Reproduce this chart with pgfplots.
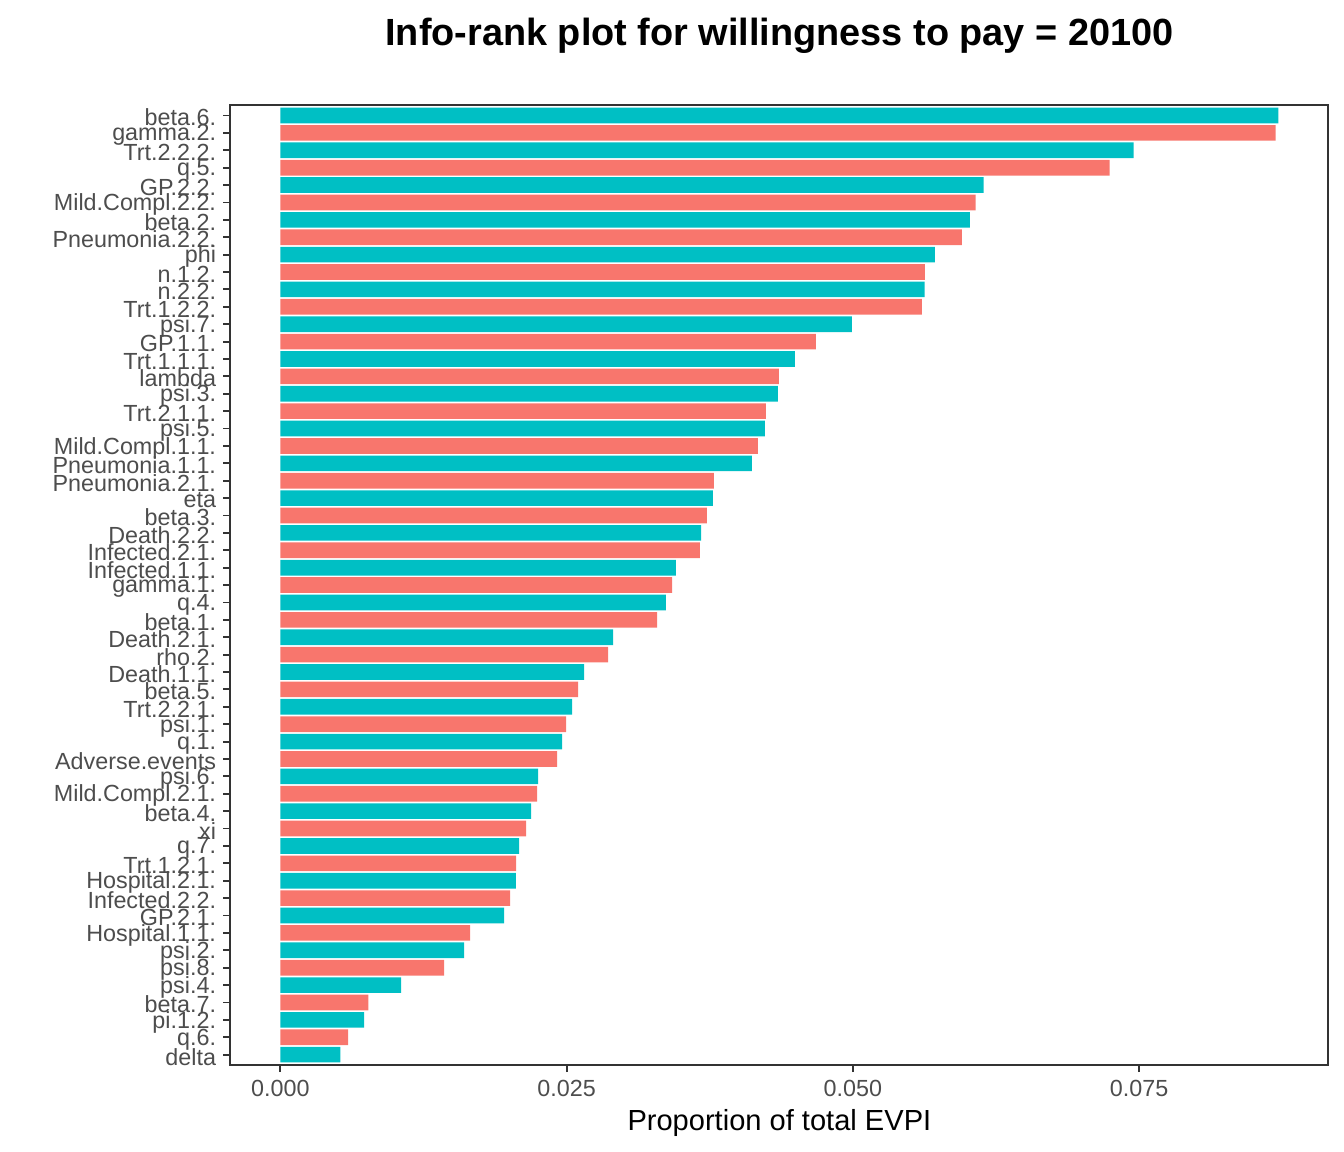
\documentclass[border=0pt]{standalone}
\usepackage{fontspec}
\setmainfont{Liberation Sans}
\usepackage{pgfplots}
\usepackage{pgfplotstable}
\pgfplotsset{compat=1.18}
\definecolor{ggteal}{HTML}{00BFC4}
\definecolor{ggred}{HTML}{F8766D}
\definecolor{gray20}{HTML}{333333}
\definecolor{gray30}{HTML}{4D4D4D}

\pgfplotstableread{
idx val
0 0.08717
2 0.07452
4 0.06143
6 0.06021
8 0.05716
10 0.05626
12 0.04991
14 0.04494
16 0.04346
18 0.04232
20 0.04119
22 0.03778
24 0.03674
26 0.03455
28 0.03368
30 0.02906
32 0.02653
34 0.02548
36 0.02461
38 0.02251
40 0.02190
42 0.02086
44 0.02058
46 0.01955
48 0.01606
50 0.01056
52 0.00733
54 0.00524
}\tealdata

\pgfplotstableread{
idx val
1 0.08691
3 0.07243
5 0.06073
7 0.05951
9 0.05628
11 0.05602
13 0.04677
15 0.04354
17 0.04241
19 0.04171
21 0.03787
23 0.03726
25 0.03665
27 0.03421
29 0.03290
31 0.02862
33 0.02600
35 0.02496
37 0.02417
39 0.02243
41 0.02147
43 0.02059
45 0.02007
47 0.01658
49 0.01431
51 0.00768
53 0.00593
}\reddata

\begin{document}
\begin{tikzpicture}
\useasboundingbox (0,0) rectangle (504bp,432bp);
\begin{axis}[
  at={(86.4bp,32.6bp)}, anchor=south west,
  scale only axis, width=411.75bp, height=360bp,
  xmin=-0.0043585, xmax=0.0915285,
  ymin=-0.6, ymax=54.6, y dir=reverse,
  scaled x ticks=false,
  xbar, bar width=0.9, bar shift=0pt,
  axis line style={draw=gray20, line width=0.7bp},
  tick style={draw=gray20, line width=0.7bp},
  tick align=outside, major tick length=2.6bp,
  xtick pos=bottom, ytick pos=left,
  xtick={0,0.025,0.05,0.075},
  xticklabels={0.000,0.025,0.050,0.075},
  ytick={0,...,54},
  yticklabels={beta.6.,gamma.2.,Trt.2.2.2.,q.5.,GP.2.2.,Mild.Compl.2.2.,beta.2.,Pneumonia.2.2.,phi,n.1.2.,n.2.2.,Trt.1.2.2.,psi.7.,GP.1.1.,Trt.1.1.1.,lambda,psi.3.,Trt.2.1.1.,psi.5.,Mild.Compl.1.1.,Pneumonia.1.1.,Pneumonia.2.1.,eta,beta.3.,Death.2.2.,Infected.2.1.,Infected.1.1.,gamma.1.,q.4.,beta.1.,Death.2.1.,rho.2.,Death.1.1.,beta.5.,Trt.2.2.1.,psi.1.,q.1.,Adverse.events,psi.6.,Mild.Compl.2.1.,beta.4.,xi,q.7.,Trt.1.2.1.,Hospital.2.1.,Infected.2.2.,GP.2.1.,Hospital.1.1.,psi.2.,psi.8.,psi.4.,beta.7.,pi.1.2.,q.6.,delta},
  ticklabel style={font=\fontsize{8.75bp}{9bp}\selectfont, text=gray30, inner sep=0pt},
  yticklabel style={anchor=east, xshift=-2.6bp, yshift=-0.8bp},
  xticklabel style={anchor=north, yshift=-3bp},
  xlabel={Proportion of total EVPI},
  xlabel style={font=\fontsize{10.9bp}{12bp}\selectfont, at={(axis description cs:0.5,0)}, anchor=base, yshift=-24.4bp, inner sep=0pt},
  title={\textbf{Info-rank plot for willingness to pay = 20100}},
  title style={font=\fontsize{14.2bp}{16bp}\selectfont, at={(axis description cs:0.5,1)}, anchor=base, yshift=16.5bp, inner sep=0pt},
]
\addplot[draw=none, fill=ggteal] table[x=val, y=idx] {\tealdata};
\addplot[draw=none, fill=ggred] table[x=val, y=idx] {\reddata};
\end{axis}
\end{tikzpicture}
\end{document}
